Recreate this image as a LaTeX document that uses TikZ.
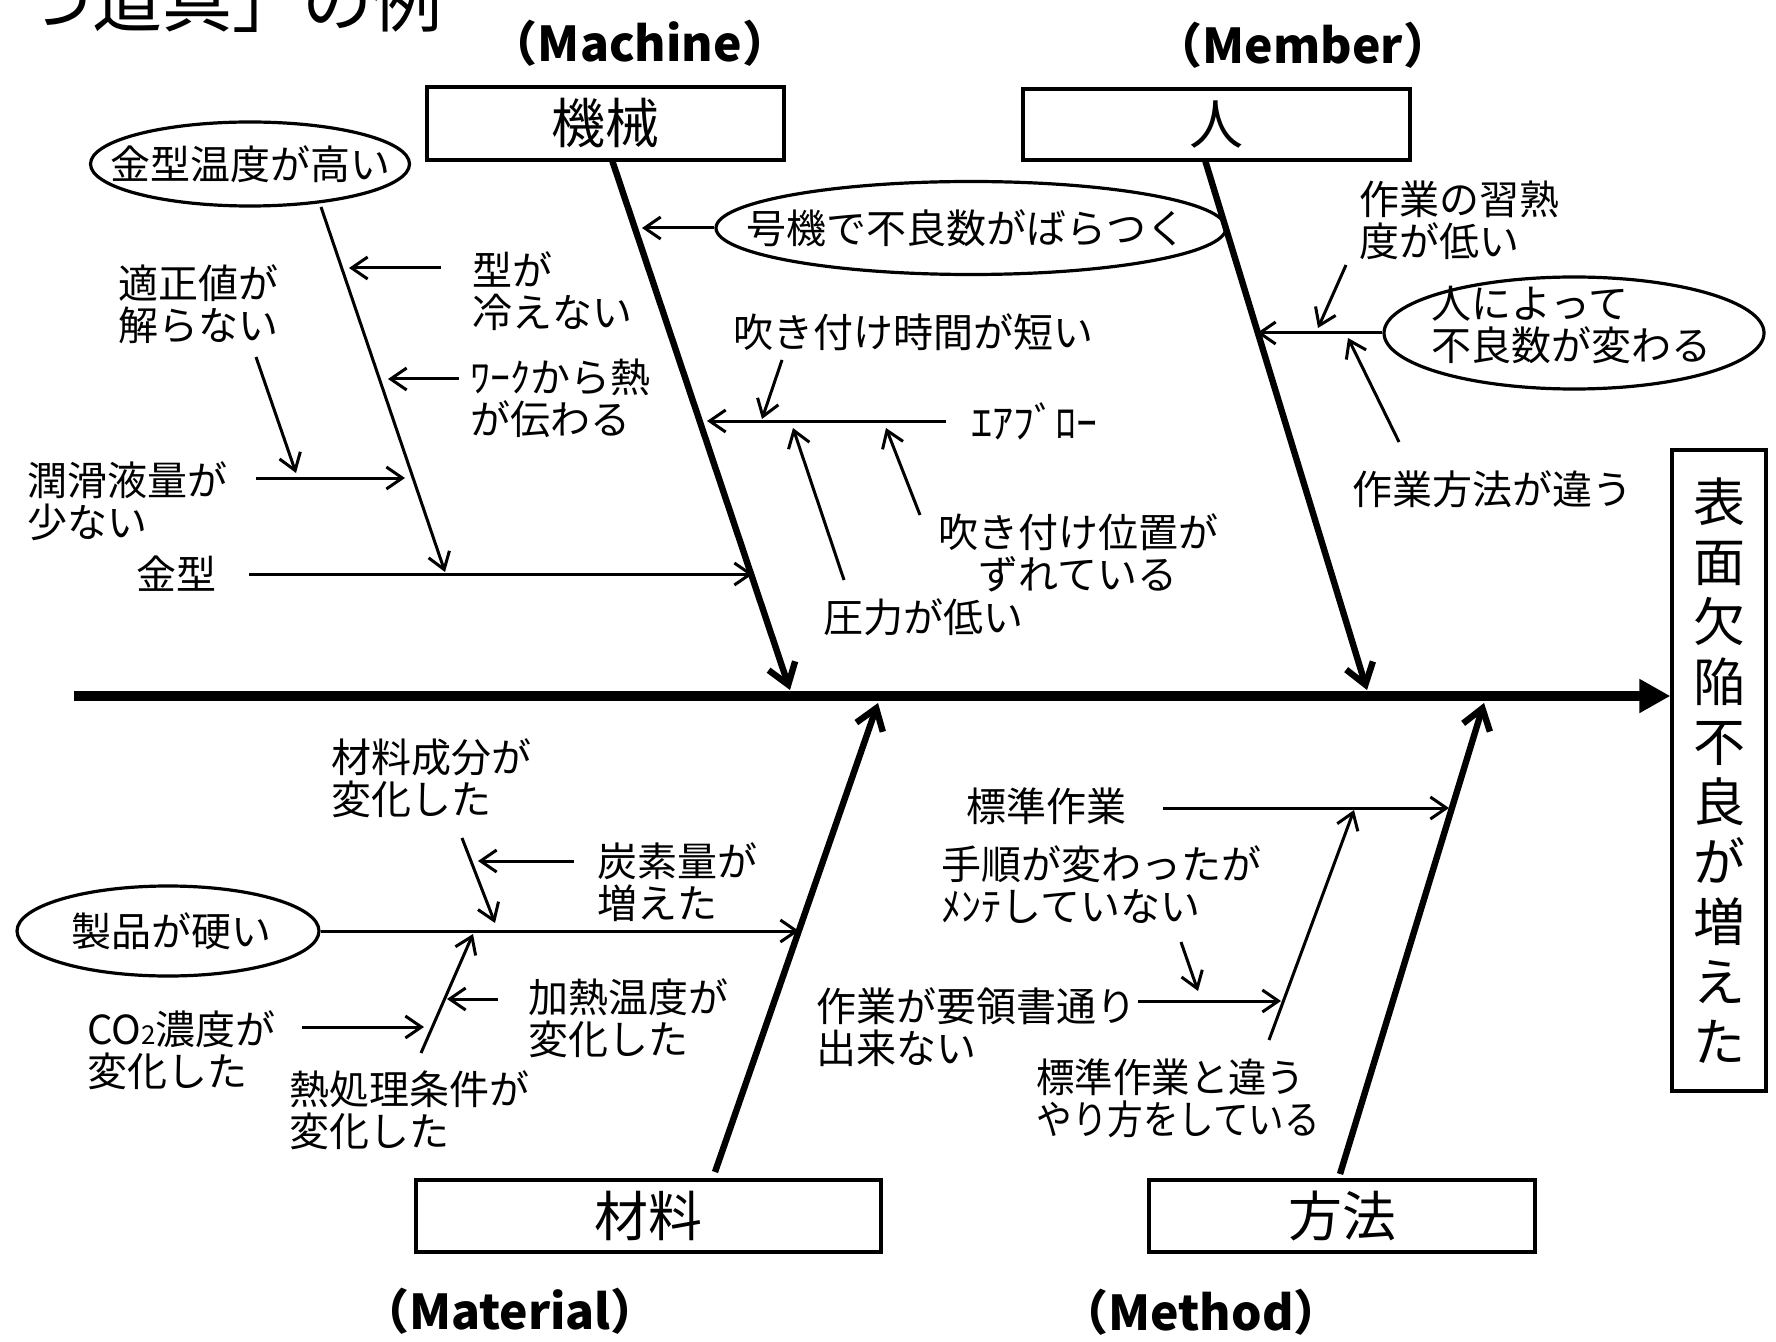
\documentclass[tikz,border=0pt]{standalone}
\usepackage{fontspec}
\setmainfont{Noto Sans CJK JP}
\usetikzlibrary{arrows.meta,shapes.geometric}
\newcommand\lblfont{\fontsize{20pt}{21pt}\selectfont}
\newcommand\hdrfont{\bfseries\fontsize{24pt}{27pt}\selectfont}
\newcommand\boxfont{\fontsize{27pt}{30pt}\selectfont}
\newcommand\efffont{\fontsize{26pt}{30pt}\selectfont}
\newcommand\ttlfont{\fontsize{35pt}{38pt}\selectfont}
\newcommand\airfont{\fontsize{21pt}{24pt}\selectfont}
\newcommand\subtwo{{\fontsize{13pt}{14pt}\selectfont 2}}
\tikzset{
  lbl/.style={font=\lblfont, inner sep=0pt, align=left},
  hdr/.style={font=\hdrfont, inner sep=0pt},
  boxn/.style={draw, line width=1.6pt, inner sep=0pt, font=\boxfont},
  oval/.style={draw, ellipse, line width=1.6pt, inner sep=0pt},
  thinarr/.style={line width=1.5pt, -{Straight Barb[length=8pt,width=11pt]}},
  bonearr/.style={line width=3.2pt, -{Straight Barb[length=10pt,width=14pt]}},
  spinearr/.style={line width=5pt, -{Triangle[length=15.5pt,width=16pt]}}
}
\begin{document}
\begin{tikzpicture}[x=0.5pt,y=-0.5pt]
\useasboundingbox (0,0) rectangle (1776,1342);
% title (cut off at the top edge, as in the reference)
\node[font=\ttlfont, inner sep=0pt, anchor=base west] (title) at (22,27) {つ道具」の例};
% headers
\node[hdr] (hmachine) at (640,43) {（Machine）};
\node[hdr] (hmember) at (1303,45) {（Member）};
\node[hdr] (hmaterial) at (510,1311) {（Material）};
\node[hdr] (hmethod) at (1201,1312) {（Method）};
% category boxes
\node[boxn, minimum width=178.5pt, minimum height=36.5pt] (machine) at (605.5,123.5) {機械};
\node[boxn, minimum width=193.5pt, minimum height=35.5pt] (member) at (1216.5,124.5) {人};
\node[boxn, minimum width=232.5pt, minimum height=36pt] (material) at (648.5,1216) {材料};
\node[boxn, minimum width=193pt, minimum height=36pt] (method) at (1342,1216) {方法};
\node[boxn, font=\efffont, align=center, minimum width=47pt, minimum height=320.5pt] (effect) at (1719,770.5)
  {表\\面\\欠\\陥\\不\\良\\が\\増\\え\\た};
% spine
\coordinate (spinestart) at (74,696);
\draw[spinearr] (spinestart) -- (spinestart -| effect.west);
% bones
\coordinate (mtop) at (612,160);   \coordinate (mtip) at (790,690);
\coordinate (htop) at (1205,160);  \coordinate (htip) at (1367,690);
\coordinate (matbot) at (715,1172); \coordinate (mattip) at (878,703);
\coordinate (metbot) at (1340,1174); \coordinate (mettip) at (1484,703);
\draw[bonearr] (mtop) -- (mtip);
\draw[bonearr] (htop) -- (htip);
\draw[bonearr] (matbot) -- (mattip);
\draw[bonearr] (metbot) -- (mettip);
% ellipses
\node[oval, minimum width=159.5pt, minimum height=42pt] (e1) at (250,164) {};
\node[lbl] (e1t) at (e1) {金型温度が高い};
\node[oval, minimum width=255pt, minimum height=46.5pt] (e2) at (971,228) {};
\node[lbl] (e2t) at (966,228) {号機で不良数がばらつく};
\node[oval, minimum width=190pt, minimum height=56pt] (e3) at (1574,333) {};
\node[lbl, anchor=west] (e3t) at (1431,324.5) {人によって\\不良数が変わる};
\node[oval, minimum width=151pt, minimum height=45pt] (e5) at (168,931) {};
\node[lbl] (e5t) at (171,931) {製品が硬い};
% machine labels
\node[lbl] (kanagata) at (176,574) {金型};
\node[lbl, anchor=west] (hiena) at (472,291.5) {型が\\冷えない};
\node[lbl, anchor=west] (work) at (470,398) {ﾜｰｸから熱\\が伝わる};
\node[lbl, anchor=west] (tekisei) at (118,304) {適正値が\\解らない};
\node[lbl, anchor=west] (junkatsu) at (27,501) {潤滑液量が\\少ない};
\node[lbl, anchor=west] (jikan) at (733,332) {吹き付け時間が短い};
\node[font=\airfont, inner sep=0pt, anchor=west] (airblow) at (971,421) {ｴｱﾌﾞﾛｰ};
\node[lbl, anchor=west] (atsu) at (823,617) {圧力が低い};
\node[lbl, align=center] (ichi) at (1078,553) {吹き付け位置が\\ずれている};
% member labels
\node[lbl, anchor=west] (shujuku) at (1359,220) {作業の習熟\\度が低い};
\node[lbl, anchor=west] (hoho) at (1352,489) {作業方法が違う};
% material labels
\node[lbl, anchor=west] (seibun) at (331,778) {材料成分が\\変化した};
\node[lbl, anchor=west] (tanso) at (597,882) {炭素量が\\増えた};
\node[lbl, anchor=west] (kanetsu) at (528,1018) {加熱温度が\\変化した};
\node[lbl, anchor=west] (netsu) at (289,1110.5) {熱処理条件が\\変化した};
\node[lbl, anchor=west] (co2) at (87,1050.5) {CO\subtwo 濃度が\\変化した};
% method labels
\node[lbl, anchor=west] (hyojun) at (966,806) {標準作業};
\node[lbl, anchor=west] (tejun) at (941,885) {手順が変わったが\\ﾒﾝﾃしていない};
\node[lbl, anchor=west] (yoryo) at (816,1027.5) {作業が要領書通り\\出来ない};
\node[lbl, anchor=west] (chigau) at (1036,1098.5) {\scalebox{0.96}[1]{標準作業と違う}\\\scalebox{0.89}[1]{やり方をしている}};
% machine connectors
\coordinate (s1a) at (321,207); \coordinate (s1b) at (445,572);
\coordinate (k0) at (249,574); \coordinate (k1) at (753,574);
\coordinate (hi0) at (441,268); \coordinate (hi1) at (349,268);
\coordinate (wk0) at (459,379); \coordinate (wk1) at (388,379);
\coordinate (tk0) at (256,357); \coordinate (tk1) at (296,473);
\coordinate (jk0) at (256,478); \coordinate (jk1) at (405,478);
\coordinate (gk1) at (642,228);
\coordinate (jt0) at (782,360); \coordinate (jt1) at (762,419);
\coordinate (ab0) at (946,421); \coordinate (ab1) at (707,421);
\coordinate (at0) at (844,580); \coordinate (at1) at (793,428);
\coordinate (ic0) at (920,515); \coordinate (ic1) at (886,428);
\draw[thinarr] (s1a) -- (s1b);
\draw[thinarr] (k0) -- (k1);
\draw[thinarr] (hi0) -- (hi1);
\draw[thinarr] (wk0) -- (wk1);
\draw[thinarr] (tk0) -- (tk1);
\draw[thinarr] (jk0) -- (jk1);
\draw[thinarr] (e2.west) -- (gk1);
\draw[thinarr] (jt0) -- (jt1);
\draw[thinarr] (ab0) -- (ab1);
\draw[thinarr] (at0) -- (at1);
\draw[thinarr] (ic0) -- (ic1);
% member connectors
\coordinate (ht1) at (1257,333);
\coordinate (sj0) at (1346,265); \coordinate (sj1) at (1318,328);
\coordinate (hh0) at (1399,442); \coordinate (hh1) at (1348,338);
\draw[thinarr] (e3.west) -- (ht1);
\draw[thinarr] (sj0) -- (sj1);
\draw[thinarr] (hh0) -- (hh1);
% material connectors
\coordinate (sh1) at (799,931);
\coordinate (sb0) at (462,838); \coordinate (sb1) at (495,923);
\coordinate (ts0) at (574,861); \coordinate (ts1) at (478,861);
\coordinate (kn0) at (498,999); \coordinate (kn1) at (447,999);
\coordinate (nt0) at (421,1053); \coordinate (nt1) at (473,934);
\coordinate (co0) at (302,1027); \coordinate (co1) at (424,1027);
\draw[thinarr] (e5.east) -- (sh1);
\draw[thinarr] (sb0) -- (sb1);
\draw[thinarr] (ts0) -- (ts1);
\draw[thinarr] (kn0) -- (kn1);
\draw[thinarr] (nt0) -- (nt1);
\draw[thinarr] (co0) -- (co1);
% method connectors
\coordinate (hj0) at (1163,808); \coordinate (hj1) at (1449,808);
\coordinate (tj0) at (1181,942); \coordinate (tj1) at (1198,991);
\coordinate (yr0) at (1138,1001); \coordinate (yr1) at (1281,1001);
\coordinate (cg0) at (1269,1040); \coordinate (cg1) at (1354,810);
\draw[thinarr] (hj0) -- (hj1);
\draw[thinarr] (tj0) -- (tj1);
\draw[thinarr] (yr0) -- (yr1);
\draw[thinarr] (cg0) -- (cg1);
\end{tikzpicture}
\end{document}
